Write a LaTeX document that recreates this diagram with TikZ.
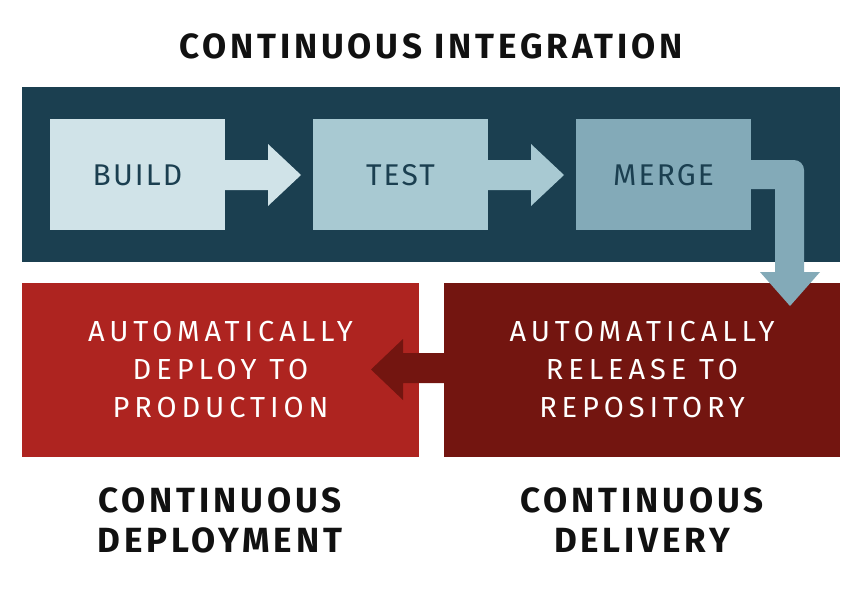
\documentclass[tikz,border=0pt]{standalone}
\usepackage{fontspec}
\setmainfont{Fira Sans}
\newfontfamily\titlefont[LetterSpace=11]{Fira Sans Bold}
\newfontfamily\boxfont[LetterSpace=7]{Fira Sans}
\newfontfamily\redfont[LetterSpace=17]{Fira Sans}
\definecolor{band}{HTML}{1B3F50}
\definecolor{buildc}{HTML}{D0E3E8}
\definecolor{testc}{HTML}{A8C9D2}
\definecolor{mergec}{HTML}{83AAB8}
\definecolor{redl}{HTML}{AE2420}
\definecolor{redd}{HTML}{731510}
\definecolor{ttl}{HTML}{111111}
\tikzset{
  title/.style={inner sep=0pt, text=ttl, font=\titlefont\fontsize{35}{40}\selectfont, align=center},
  stagebox/.style={inner sep=0pt, text=band, font=\boxfont\fontsize{30}{36}\selectfont},
  redbox/.style={inner sep=0pt, text=white, font=\redfont\fontsize{29}{38}\selectfont, align=center},
}
\begin{document}
\begin{tikzpicture}[x=1pt,y=-1pt]
\useasboundingbox (0,0) rectangle (866,594);
% band
\fill[band] (22,87) rectangle (840,262);
% stage boxes
\fill[buildc] (50,119) rectangle (225,230);
\fill[testc] (313,119) rectangle (488,230);
\fill[mergec] (576,119) rectangle (751,230);
% arrows between stages
\fill[buildc] (225,160) -- (268,160) -- (268,144) -- (301,175) -- (268,206) -- (268,190) -- (225,190) -- cycle;
\fill[testc] (488,160) -- (531,160) -- (531,144) -- (564,175) -- (531,206) -- (531,190) -- (488,190) -- cycle;
% red boxes
\fill[redl] (22,283) rectangle (419,457);
\fill[redd] (444,283) rectangle (840,457);
% left arrow
\fill[redd] (444,353) -- (403,353) -- (403,339) -- (371,369.5) -- (403,400) -- (403,383) -- (444,383) -- cycle;
% bent arrow from merge
\fill[mergec] (751,160) -- (794,160) arc[start angle=-90, end angle=0, radius=10] -- (804,272) -- (820,272) -- (790,306) -- (760,272) -- (775,272) -- (775,189) -- (751,189) -- cycle;
% texts
\node[title] (ci) at (431,46) {CONTINUOUS INTEGRATION};
\node[stagebox] (build) at (137.5,175.5) {BUILD};
\node[stagebox] (test) at (400.5,175.5) {TEST};
\node[stagebox] (merge) at (663.5,175.5) {MERGE};
\node[redbox] (deploy) at (220.5,370) {AUTOMATICALLY\\DEPLOY TO\\PRODUCTION};
\node[redbox] (release) at (642,370) {AUTOMATICALLY\\RELEASE TO\\REPOSITORY};
\node[title] (cdep) at (220,520.5) {CONTINUOUS\\DEPLOYMENT};
\node[title] (cdel) at (642,520.5) {CONTINUOUS\\DELIVERY};
\end{tikzpicture}
\end{document}
